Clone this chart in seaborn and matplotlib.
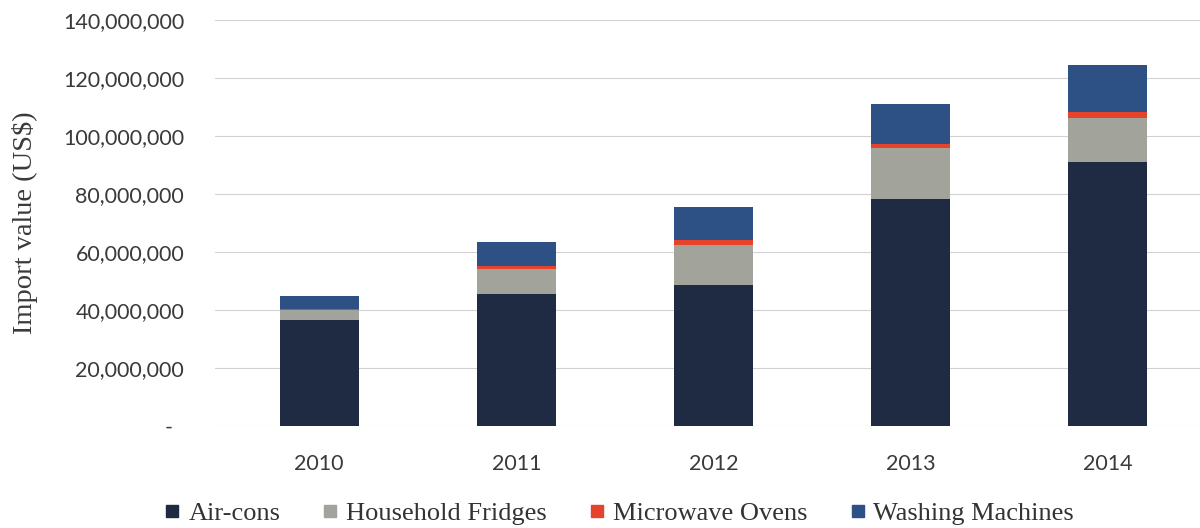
import matplotlib
matplotlib.use("Agg")
import matplotlib.pyplot as plt
from matplotlib.ticker import FuncFormatter
from matplotlib.lines import Line2D
import seaborn as sns
import pandas as pd
import numpy as np

# Import values by appliance type (US$)
years = ["2010", "2011", "2012", "2013", "2014"]
air_cons = [36_600_000, 45_500_000, 48_500_000, 78_300_000, 91_200_000]
fridges = [3_400_000, 8_700_000, 14_100_000, 17_600_000, 14_900_000]
microwaves = [400_000, 1_100_000, 1_500_000, 1_200_000, 2_200_000]
washing = [4_600_000, 8_300_000, 11_400_000, 13_900_000, 16_300_000]

series_names = ["Air-cons", "Household Fridges", "Microwave Ovens", "Washing Machines"]
colors = ["#1e2b43", "#a2a39a", "#e4432c", "#2d5185"]

sns.set_theme(style="white")
plt.rcParams["font.family"] = ["Lato", "DejaVu Sans"]

df = pd.DataFrame({
    "year": years,
    "Air-cons": air_cons,
    "Household Fridges": fridges,
    "Microwave Ovens": microwaves,
    "Washing Machines": washing,
})
# cumulative tops for stacking
cum = df[series_names].cumsum(axis=1)

fig = plt.figure(figsize=(12, 5.28), dpi=100)
ax = fig.add_axes([0.179, 0.193, 0.821, 0.769])

# draw from the tallest stack down so each lower segment overlays the one above
for name, col in reversed(list(zip(series_names, colors))):
    sns.barplot(x=df["year"], y=cum[name], color=col, width=0.4,
                saturation=1, ax=ax, zorder=3, linewidth=0)

ax.set_ylim(0, 140_000_000)
ax.set_xlim(-0.53, 4.47)
ax.set_yticks(np.arange(0, 140_000_001, 20_000_000))
ax.yaxis.set_major_formatter(FuncFormatter(lambda v, p: "-  " if v == 0 else f"{v:,.0f}"))
ax.grid(axis="y", color="#d2d2d2", linewidth=0.8, zorder=0)
ax.grid(axis="x", visible=False)
for s in ax.spines.values():
    s.set_visible(False)
ax.tick_params(axis="y", labelsize=15.5, labelcolor="#3a3a3a", pad=22, length=0)
ax.tick_params(axis="x", labelsize=15.5, labelcolor="#3a3a3a", pad=20, length=0)
ax.set_xlabel("")
ax.set_ylabel("Import value (US$)", family=["Liberation Serif", "DejaVu Serif"],
              fontsize=20.5, color="#3a3a3a", labelpad=18)

handles = [Line2D([0], [0], marker="s", linestyle="none", markersize=9,
                  markerfacecolor=c, markeredgecolor=c) for c in colors]
fig.legend(handles, series_names, loc="lower center", ncol=4,
           bbox_to_anchor=(0.515, -0.04), frameon=False, handlelength=0.8,
           handletextpad=0.2, columnspacing=1.5,
           prop={"family": ["Liberation Serif", "DejaVu Serif"], "size": 19},
           labelcolor="#333333")

fig.savefig("out.png", dpi=100, facecolor="white")
